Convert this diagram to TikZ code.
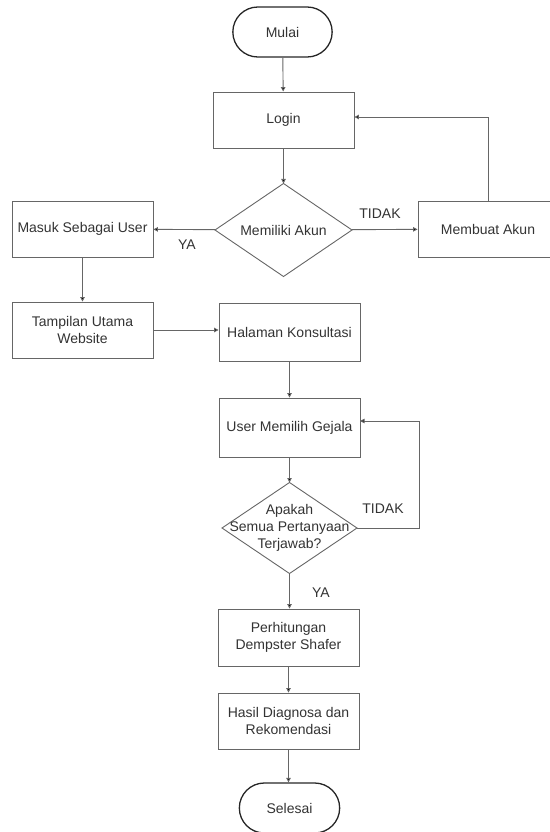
\documentclass[tikz,border=0pt]{standalone}
\usepackage{fontspec}
\setmainfont{Liberation Sans}
\usetikzlibrary{shapes.geometric,shapes.misc,arrows.meta}
\definecolor{garis}{HTML}{666666}
\definecolor{teks}{HTML}{333333}

\begin{document}
\begin{tikzpicture}[x=1pt,y=-1pt,
  font=\fontsize{14}{17}\selectfont, text=teks,
  proses/.style={draw=garis,line width=0.9pt,rectangle,minimum width=141pt,minimum height=57pt,align=center,inner sep=2pt},
  terminal/.style={draw=black!85,line width=1.3pt,rounded rectangle,minimum width=106pt,minimum height=50pt},
  keputusan/.style={draw=garis,line width=0.9pt,diamond,inner sep=0pt,outer sep=0pt},
  isi/.style={label={[align=center,text=teks]center:#1}},
  panah/.style={draw=garis,line width=0.9pt,-{Triangle[length=4.5pt,width=4.5pt,fill=black]}}]
\useasboundingbox (0,0) rectangle (549,832);

  \node (mulai) at (282.5,32) [terminal] {Mulai};
  \node (login) at (283.5,120) [proses,minimum height=56pt] {Login};
  \node (akun) at (283.5,230) [keputusan,minimum width=137pt,minimum height=93pt,isi={Memiliki Akun}] {};
  \node (masuk) at (82.5,229) [proses,minimum height=56pt] {Masuk Sebagai User};
  \node (membuat) at (488,229) [proses,minimum width=140pt,minimum height=56pt] {Membuat Akun};
  \node (tampilan) at (82.5,330) [proses,minimum height=56pt] {Tampilan Utama\\Website};
  \node (halaman) at (289.5,332) [proses,minimum height=58pt] {Halaman Konsultasi};
  \node (gejala) at (289.5,427.5) [proses,minimum height=59pt] {User Memilih Gejala};
  \node (apakah) at (289.5,528) [keputusan,minimum width=135pt,minimum height=91pt,isi={Apakah\\Semua Pertanyaan\\Terjawab?}] {};
  \node (hitung) at (288.5,637.5) [proses,minimum height=57pt] {Perhitungan\\Dempster Shafer};
  \node (hasil) at (288.5,721) [proses,minimum height=56pt] {Hasil Diagnosa dan\\Rekomendasi};
  \node (selesai) at (289.5,808) [terminal,minimum width=107pt] {Selesai};

  \coordinate (balik1) at (488,117);
  \coordinate (balik2) at (419,528);
  \coordinate (masukgejala) at (360,421);

  \draw [panah] (mulai) -- (login);
  \draw [panah] (login) -- (akun);
  \draw [panah] (akun) -- (masuk);
  \draw [panah] (akun) -- (membuat);
  \draw [panah] (membuat.north) -- (balik1) -- (balik1 -| login.east);
  \draw [panah] (masuk) -- (tampilan);
  \draw [panah] (tampilan.east) -- (tampilan.east -| halaman.west);
  \draw [panah] (halaman) -- (gejala);
  \draw [panah] (gejala) -- (apakah);
  \draw [panah] (apakah.east) -- (balik2) |- (masukgejala);
  \draw [panah] (apakah.south) -- (apakah.south |- hitung.north);
  \draw [panah] (hitung.south) -- (hitung.south |- hasil.north);
  \draw [panah] (hasil.south) -- (hasil.south |- selesai.north);

  \node (ya1) at (187,245) {YA};
  \node (tidak1) at (380,214) {TIDAK};
  \node (tidak2) at (383,509) {TIDAK};
  \node (ya2) at (321,593) {YA};

\end{tikzpicture}
\end{document}
